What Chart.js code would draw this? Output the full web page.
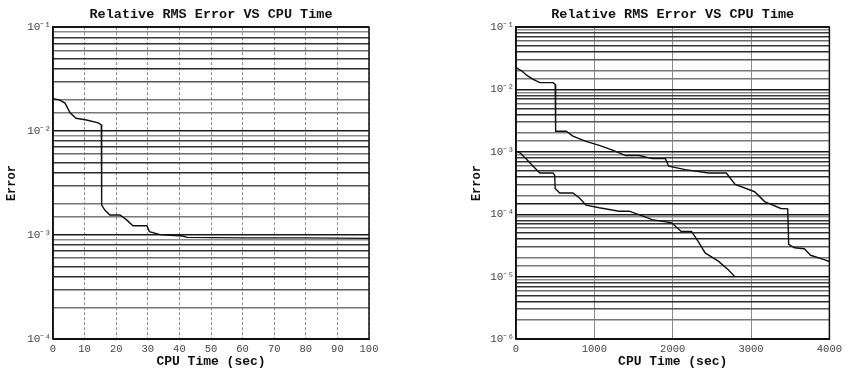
<!DOCTYPE html>
<html>
<head>
<meta charset="utf-8">
<script src="https://cdn.jsdelivr.net/npm/chart.js"></script>
<style>
  body { margin: 0; background: #fff; }
  .box { position: absolute; top: 0; height: 372px; }
</style>
</head>
<body>
<div class="box" style="left:0;width:420px"><canvas id="left" width="420" height="372"></canvas></div>
<div class="box" style="left:420px;width:426px"><canvas id="right" width="426" height="372"></canvas></div>
<script>
// left plot: 0-100 sec
const timeLeft = [0, 2, 3.8, 5.4, 7.3, 10.6, 14.3, 15.3, 15.4, 16.4, 18, 21.2, 23.3, 25.3, 29.7, 30.5, 33.9, 36, 41, 42.5, 60, 80, 100];
const errLeft = [2.05e-2, 2.0e-2, 1.86e-2, 1.5e-2, 1.33e-2, 1.28e-2, 1.2e-2, 1.15e-2, 1.94e-3, 1.74e-3, 1.56e-3, 1.56e-3, 1.4e-3, 1.23e-3, 1.23e-3, 1.08e-3, 1.01e-3, 1.0e-3, 9.8e-4, 9.5e-4, 9.4e-4, 9.4e-4, 9.3e-4];

// right plot: 0-4000 sec, two runs
const timeA = [0, 72, 135, 219, 304, 473, 500, 506, 557, 641, 726, 894, 1063, 1232, 1400, 1570, 1738, 1907, 1949, 2160, 2456, 2684, 2797, 3046, 3173, 3380, 3468, 3480, 3555, 3680, 3760, 3933, 4000];
const errA = [2.25e-2, 2.0e-2, 1.7e-2, 1.46e-2, 1.29e-2, 1.29e-2, 1.21e-2, 2.15e-3, 2.15e-3, 2.15e-3, 1.79e-3, 1.48e-3, 1.27e-3, 1.07e-3, 8.75e-4, 8.75e-4, 7.8e-4, 7.8e-4, 5.9e-4, 5.2e-4, 4.6e-4, 4.6e-4, 3.0e-4, 2.3e-4, 1.6e-4, 1.24e-4, 1.22e-4, 3.3e-5, 2.9e-5, 2.8e-5, 2.2e-5, 1.88e-5, 1.75e-5];
const timeB = [0, 51, 135, 219, 304, 473, 494, 500, 557, 726, 810, 894, 1063, 1316, 1443, 1570, 1738, 1987, 2110, 2240, 2329, 2414, 2582, 2709, 2793];
const errB = [1.02e-3, 9.7e-4, 7.6e-4, 5.9e-4, 4.6e-4, 4.6e-4, 4.2e-4, 2.6e-4, 2.2e-4, 2.2e-4, 1.82e-4, 1.4e-4, 1.27e-4, 1.12e-4, 1.12e-4, 9.9e-5, 8.2e-5, 7.3e-5, 5.3e-5, 5.3e-5, 3.6e-5, 2.4e-5, 1.77e-5, 1.29e-5, 1.0e-5];

const xTicksLeft = [0, 10, 20, 30, 40, 50, 60, 70, 80, 90, 100];
const xTicksRight = [0, 1000, 2000, 3000, 4000];

const titleText = 'Relative RMS Error VS CPU Time';
const sup = { '-': '⁻', '0': '⁰', '1': '¹', '2': '²', '3': '³', '4': '⁴', '5': '⁵', '6': '⁶', '7': '⁷', '8': '⁸', '9': '⁹' };
// scanned-looking minor lines, shade per mantissa 1..9
const shade = ['#1a1a1a', '#777', '#555', '#2a2a2a', '#333', '#6a6a6a', '#333', '#3a3a3a', '#8a8a8a'];

function pts(xs, ys) {
  return xs.map((x, i) => ({ x: x, y: ys[i] }));
}

const frame = {
  id: 'frame',
  afterDatasetsDraw(chart) {
    const a = chart.chartArea, c = chart.ctx;
    c.save();
    c.strokeStyle = '#111';
    c.lineWidth = 1.5;
    c.strokeRect(a.left, a.top, a.right - a.left, a.bottom - a.top);
    c.restore();
  }
};

function makeChart(id, sets, xmin, xmax, xstep, ymin, ymax, yWidth, padLeft, padRight, dash) {
  return new Chart(document.getElementById(id), {
    type: 'line',
    data: {
      datasets: sets.map(s => ({
        data: s,
        borderColor: '#111',
        borderWidth: 1.4,
        pointRadius: 0,
        tension: 0,
        fill: false
      }))
    },
    options: {
      responsive: false,
      animation: false,
      layout: { padding: { left: padLeft, right: padRight, top: 0, bottom: 0 } },
      plugins: {
        legend: { display: false },
        tooltip: { enabled: false },
        title: {
          display: true,
          text: titleText,
          fullSize: false,
          color: '#111',
          font: { family: 'Liberation Mono', size: 13.5, weight: 'bold' },
          padding: { top: 6, bottom: 5 }
        }
      },
      scales: {
        x: {
          type: 'linear',
          min: xmin,
          max: xmax,
          afterFit: (s) => { s.height = 33; },
          ticks: {
            stepSize: xstep,
            color: '#444',
            padding: 4,
            font: { family: 'Liberation Mono', size: 10.5 },
            callback: (v) => String(v)
          },
          grid: { color: '#8a8a8a', lineWidth: 1, drawTicks: false },
          border: { display: true, color: '#111', dash: dash },
          title: {
            display: true,
            text: 'CPU Time (sec)',
            color: '#111',
            font: { family: 'Liberation Mono', size: 13, weight: 'bold' },
            padding: { top: 0, bottom: 2 }
          }
        },
        y: {
          type: 'logarithmic',
          min: ymin,
          max: ymax,
          afterFit: (s) => { s.width = yWidth; },
          ticks: {
            autoSkip: false,
            color: '#444',
            padding: 2,
            font: { family: 'Liberation Mono', size: 11 },
            callback: (v) => {
              const e = Math.log10(v);
              if (Math.abs(e - Math.round(e)) > 1e-6) return '';
              return '10' + String(Math.round(e)).split('').map(ch => sup[ch]).join('');
            }
          },
          grid: {
            drawTicks: false,
            lineWidth: 1.5,
            color: (c) => {
              const v = c.tick.value;
              const m = Math.round(v / Math.pow(10, Math.floor(Math.log10(v) + 1e-9)));
              return shade[m - 1] || '#333';
            }
          },
          border: { display: true, color: '#111', width: 1.5 },
          title: {
            display: true,
            text: 'Error',
            color: '#111',
            font: { family: 'Liberation Mono', size: 12, weight: 'bold' },
            padding: { top: 5, bottom: 0 }
          }
        }
      }
    },
    plugins: [frame]
  });
}

makeChart('left', [pts(timeLeft, errLeft)], xTicksLeft[0], xTicksLeft[xTicksLeft.length - 1], 10, 1e-4, 1e-1, 53, 0, 51, [3, 2]);
makeChart('right', [pts(timeA, errA), pts(timeB, errB)], xTicksRight[0], xTicksRight[xTicksRight.length - 1], 1000, 1e-6, 1e-1, 51, 45, 14, []);
</script>
</body>
</html>
